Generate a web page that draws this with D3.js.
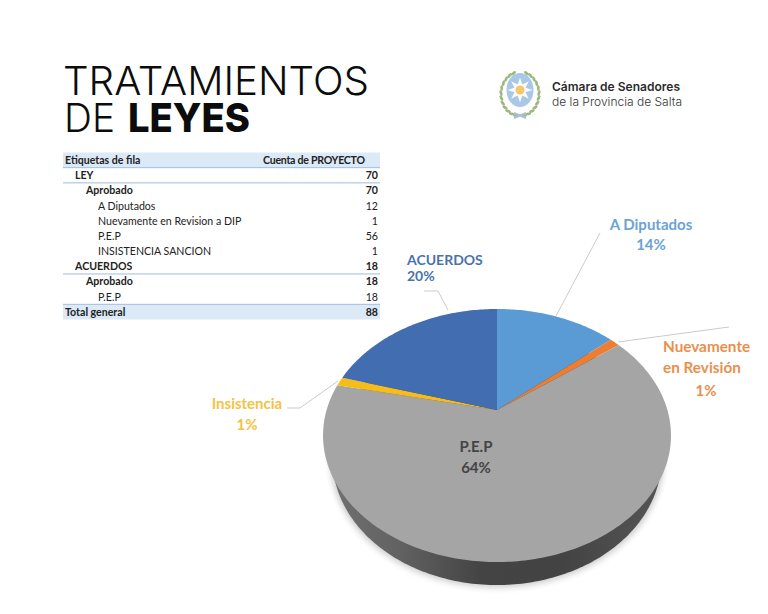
<!DOCTYPE html>
<html>
<head>
<meta charset="utf-8">
<script src="https://cdnjs.cloudflare.com/ajax/libs/d3/7.8.5/d3.min.js"></script>
<style>
html,body{margin:0;padding:0;background:#fff;overflow:hidden}
svg{display:block}
text{font-family:Lato,sans-serif}
</style>
</head>
<body>
<div id="container"></div>
<script>
// table
var rowLabels = ["LEY","Aprobado","A Diputados","Nuevamente en Revision a DIP","P.E.P","INSISTENCIA SANCION","ACUERDOS","Aprobado","P.E.P"];
var rowValues = [70,70,12,1,56,1,18,18,18];
var rowLevels = [1,2,3,3,3,3,1,2,3];
var totalValue = 88;

// pie
var sliceNames = ["A Diputados","Nuevamente","P.E.P","Insistencia","ACUERDOS"];
var sliceValues = [12,1,56,1,18];
var sliceColors = ["#5b9bd5","#ed7d31","#a5a5a5","#f7bd16","#426db0"];

var svg = d3.select("#container").append("svg").attr("width",768).attr("height",614);
var defs = svg.append("defs");

var blur = defs.append("filter").attr("id","soft").attr("x","-10%").attr("y","-10%").attr("width","120%").attr("height","120%");
blur.append("feGaussianBlur").attr("stdDeviation",3.5);

var side = defs.append("linearGradient").attr("id","sideGrad");
[[0,"#707070"],[0.2,"#626262"],[0.45,"#444444"],[0.7,"#434343"],[1,"#555555"]].forEach(function(s){
	side.append("stop").attr("offset",s[0]).attr("stop-color",s[1]);
});

// title
function titleText(txt,x,yy,weight,len){
	svg.append("text").attr("x",x).attr("y",yy).attr("fill","#0c0c0c")
		.style("font-family","Inter").attr("font-size",40).attr("font-weight",weight)
		.attr("textLength",len).attr("lengthAdjust","spacingAndGlyphs").text(txt);
}
titleText("TRATAMIENTOS",63,95,300,306);
titleText("DE",64,132,300,51);
titleText("LEYES",128,132,800,122);

// table rows on a band scale
var rowIds = ["header"].concat(d3.range(rowLabels.length)).concat(["total"]);
var y = d3.scaleBand().domain(rowIds).range([152.5,319.5]);
var indent = d3.scaleOrdinal().domain([0,1,2,3]).range([65,75,86,98]);
var table = svg.append("g").attr("font-size",10.6).attr("fill","#222");

table.selectAll("rect.band").data(["header","total"]).enter().append("rect")
	.attr("x",63).attr("width",317)
	.attr("y",function(d){return y(d);})
	.attr("height",y.bandwidth())
	.attr("fill","#dce9f6");

table.selectAll("line.rule").data(["header",0,6,8]).enter().append("line")
	.attr("x1",63).attr("x2",380)
	.attr("y1",function(d){return y(d)+y.bandwidth();})
	.attr("y2",function(d){return y(d)+y.bandwidth();})
	.attr("stroke","#9dbde0").attr("stroke-width",1);

var mid = function(id){return y(id)+y.bandwidth()/2+3.9;};
table.append("text").attr("x",indent(0)).attr("y",mid("header")).attr("font-weight",700).text("Etiquetas de fila");
table.append("text").attr("x",263).attr("y",mid("header")).attr("textLength",102).attr("font-weight",700).text("Cuenta de PROYECTO");
table.append("text").attr("x",indent(0)).attr("y",mid("total")).attr("font-weight",700).text("Total general");
table.append("text").attr("x",378).attr("y",mid("total")).attr("text-anchor","end").attr("font-weight",700).text(totalValue);

rowLabels.forEach(function(label,i){
	var bold = rowLevels[i] < 3 ? 700 : 400;
	table.append("text").attr("x",indent(rowLevels[i])).attr("y",mid(i)).attr("font-weight",bold).text(label);
	table.append("text").attr("x",378).attr("y",mid(i)).attr("text-anchor","end").attr("font-weight",bold).text(rowValues[i]);
});

// pie seen in perspective: unit disc projected so the apex sits above the middle of the ellipse
var cx = 497, cy = 410, depth = 23, tilt = 0.2016, spanX = 170.4, spanY = 121.4;
function project(a,r){
	var u = Math.sin(a)*r, v = -Math.cos(a)*r, w = 1 - tilt*v;
	return [cx + spanX*u/w, cy + spanY*v/w];
}
var pie = d3.pie().sort(null).value(function(d){return d;});
var arcs = pie(sliceValues);
var line = d3.line();

function slicePath(d){
	var n = Math.max(2,Math.ceil((d.endAngle-d.startAngle)*60));
	var pts = d3.range(n+1).map(function(i){
		return project(d.startAngle+(d.endAngle-d.startAngle)*i/n,1);
	});
	return line([project(0,0)].concat(pts))+"Z";
}
var rim = line(d3.range(361).map(function(i){return project(i*Math.PI/180,1);}))+"Z";

// the lower rim is narrower than the top face
var chart = svg.append("g");
chart.append("path").attr("d",rim)
	.attr("transform","translate("+cx+",0) scale(0.955,1) translate("+(-cx)+","+(depth+2)+")")
	.attr("fill","#000").attr("opacity",0.22).attr("filter","url(#soft)");
chart.append("path").attr("d",rim)
	.attr("transform","translate("+cx+",0) scale(0.946,1) translate("+(-cx)+","+depth+")")
	.attr("fill","url(#sideGrad)");
chart.selectAll("path.slice").data(arcs).enter().append("path")
	.attr("class","slice")
	.attr("d",slicePath)
	.attr("fill",function(d,i){return sliceColors[i];});

// leader lines
var leaders = [
	[[556,316],[600,233]],
	[[618,342],[729,327]],
	[[338,381],[300,408],[287,408]],
	[[448,310],[438,291],[424,291]]
];
svg.selectAll("path.leader").data(leaders).enter().append("path")
	.attr("d",function(d){return line(d);})
	.attr("fill","none").attr("stroke","#c4c4c4").attr("stroke-width",0.9);

// labels
var pct = d3.format(".0%");
var share = sliceValues.map(function(v){return pct(v/d3.sum(sliceValues));});
function label(txt,x,yy,color,anchor,size){
	svg.append("text").attr("x",x).attr("y",yy).attr("fill",color).attr("text-anchor",anchor||"middle")
		.attr("font-size",size||15).attr("font-weight",700).text(txt);
}
label(sliceNames[0],651,230,"#6ba3d6");
label(share[0],651,250,"#6ba3d6");
label(sliceNames[1],663,352,"#e98f4c","start",15.3);
label("en Revisión",663,373,"#e98f4c","start",15.3);
label(share[1],706,396,"#e98f4c");
label(sliceNames[2],476,452,"#444");
label(share[2],476,473,"#444");
label(sliceNames[3],247,409,"#f5c242");
label(share[3],247,430,"#f5c242");
label(sliceNames[4],407,265,"#4a72ad","start",14);
label(share[4],407,281,"#4a72ad","start",14);

// logo
var logo = svg.append("g").attr("transform","translate(520,90)");
[-1,1].forEach(function(s){
	d3.range(12).forEach(function(i){
		var t = 0.35 + i*0.235;
		var lx = s*19*Math.sin(t), ly = 4 - 22*Math.cos(t);
		logo.append("ellipse").attr("cx",lx).attr("cy",ly).attr("rx",1.4).attr("ry",3)
			.attr("transform","rotate("+(s*(t-Math.PI/2)*180/Math.PI+s*18)+" "+lx+" "+ly+")")
			.attr("fill","#9db77f");
	});
});
logo.append("ellipse").attr("rx",13.5).attr("ry",17).attr("fill","#a9c8e6");
var star = d3.range(16).map(function(i){
	var a = i*Math.PI/8, r = i%2 ? 6 : 12.5;
	return [Math.sin(a)*r, -Math.cos(a)*r];
});
logo.append("path").attr("d",line(star)+"Z").attr("fill","#fbfbfb");
logo.append("circle").attr("r",4.5).attr("fill","#f5c96a");
logo.append("path").attr("d","M-6 28L6 23M6 28L-6 23").attr("stroke","#a9c0d6").attr("stroke-width",2).attr("fill","none");

svg.append("text").attr("x",552).attr("y",91).style("font-family","Inter").attr("font-size",12).attr("font-weight",600).attr("fill","#2b2b2b").attr("textLength",128).attr("lengthAdjust","spacingAndGlyphs").text("Cámara de Senadores");
svg.append("text").attr("x",552).attr("y",106).style("font-family","Inter").attr("font-size",12).attr("font-weight",300).attr("fill","#333").attr("textLength",130).attr("lengthAdjust","spacingAndGlyphs").text("de la Provincia de Salta");
</script>
</body>
</html>
